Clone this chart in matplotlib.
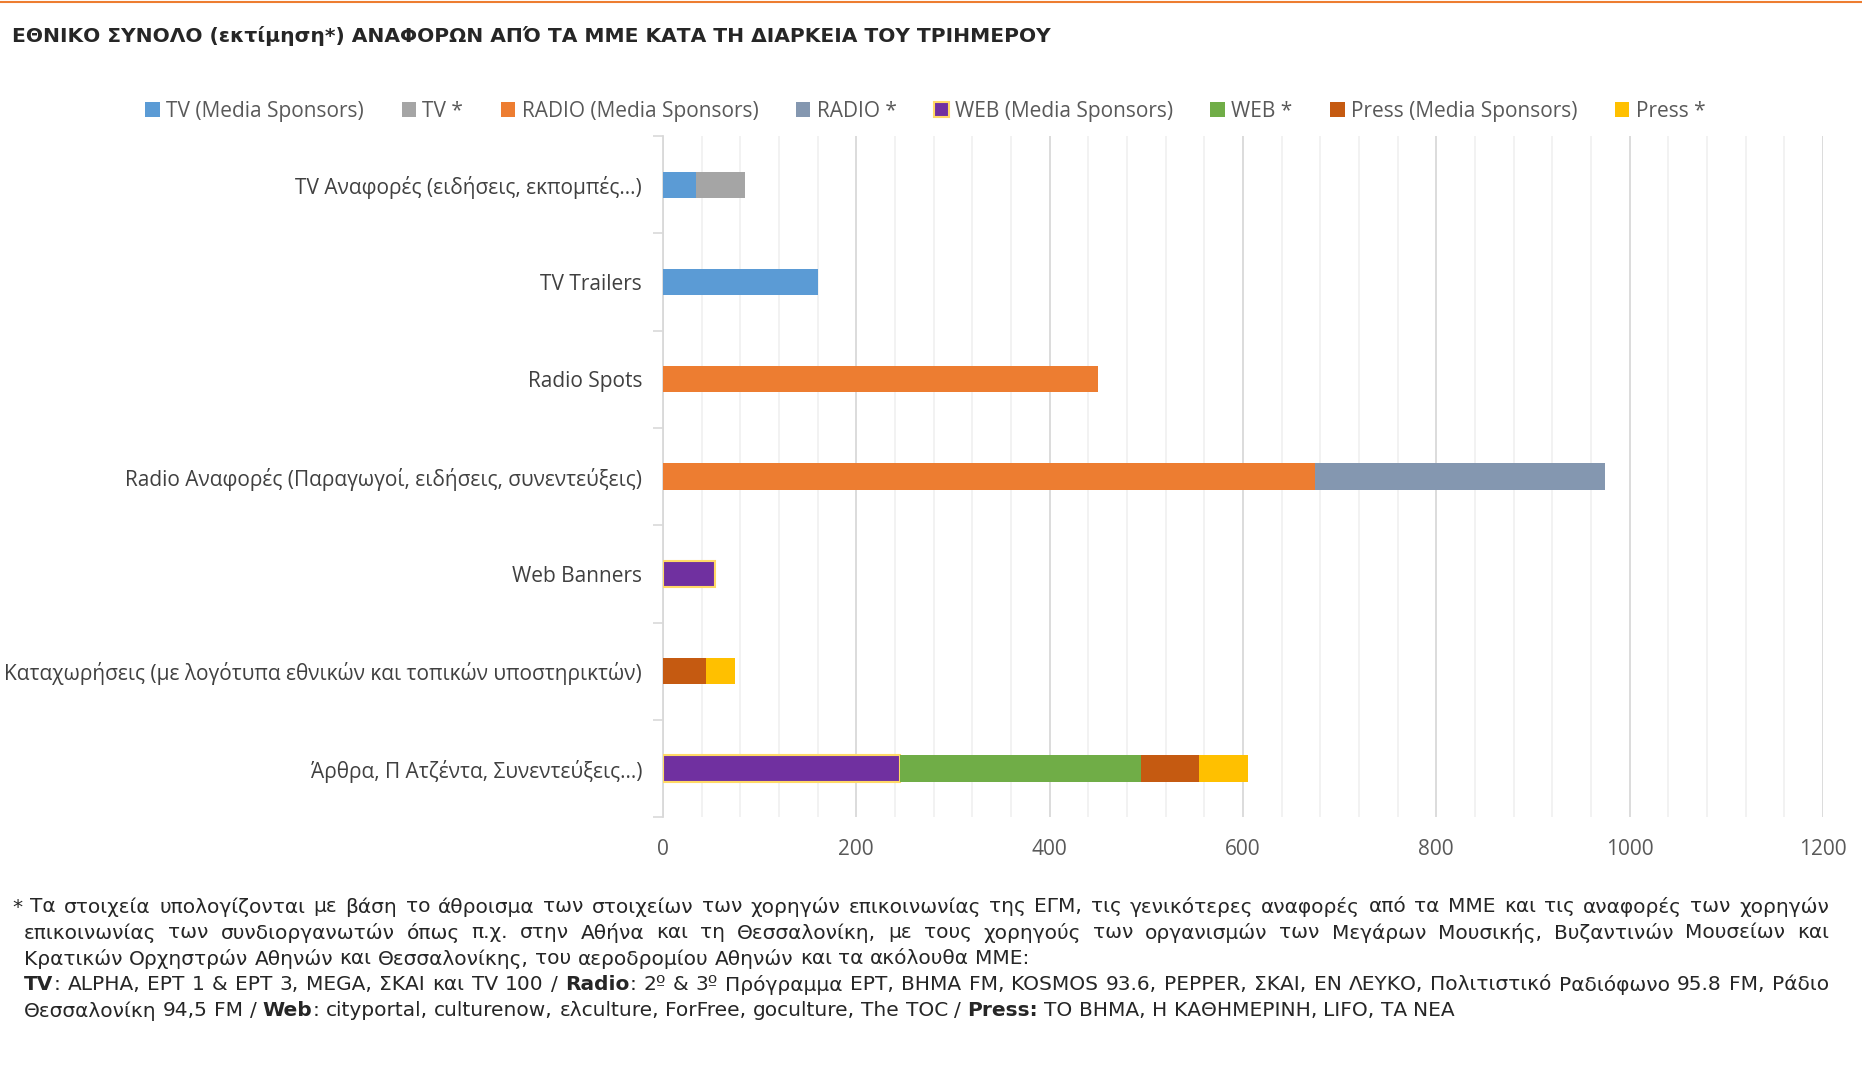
import matplotlib
matplotlib.use('Agg')
import matplotlib.pyplot as plt
import numpy as np
from matplotlib.patches import Patch
from matplotlib.ticker import MultipleLocator

categories = ["TV Αναφορές (ειδήσεις, εκπομπές…)",
              "TV Trailers",
              "Radio Spots",
              "Radio Αναφορές (Παραγωγοί, ειδήσεις, συνεντεύξεις)",
              "Web Banners",
              "Καταχωρήσεις (με λογότυπα εθνικών και τοπικών υποστηρικτών)",
              "Άρθρα, Π Ατζέντα, Συνεντεύξεις…)"]

tv_media = [34, 160, 0, 0, 0, 0, 0]
tv_star = [51, 0, 0, 0, 0, 0, 0]
radio_media = [0, 0, 450, 675, 0, 0, 0]
radio_star = [0, 0, 0, 300, 0, 0, 0]
web_media = [0, 0, 0, 0, 54, 0, 245]
web_star = [0, 0, 0, 0, 0, 0, 250]
press_media = [0, 0, 0, 0, 0, 45, 60]
press_star = [0, 0, 0, 0, 0, 30, 50]

series_names = ["TV (Media Sponsors)", "TV *", "RADIO (Media Sponsors)", "RADIO *",
                "WEB (Media Sponsors)", "WEB *", "Press (Media Sponsors)", "Press *"]
series = [tv_media, tv_star, radio_media, radio_star, web_media, web_star, press_media, press_star]
colors = ['#5B9BD5', '#A5A5A5', '#ED7D31', '#8497B0', '#7030A0', '#70AD47', '#C55A11', '#FFC000']

title = "ΕΘΝΙΚΟ ΣΥΝΟΛΟ (εκτίμηση*) ΑΝΑΦΟΡΩΝ ΑΠΌ ΤΑ ΜΜΕ ΚΑΤΑ ΤΗ ΔΙΑΡΚΕΙΑ ΤΟΥ ΤΡΙΗΜΕΡΟΥ"

# footnote lines: (text, justified)  ** toggles bold
footnote = [
    ("* Τα στοιχεία υπολογίζονται με βάση το άθροισμα των στοιχείων των χορηγών επικοινωνίας της ΕΓΜ, τις γενικότερες αναφορές από τα ΜΜΕ και τις αναφορές των χορηγών", True),
    ("επικοινωνίας των συνδιοργανωτών όπως π.χ. στην Αθήνα και τη Θεσσαλονίκη, με τους χορηγούς των οργανισμών των Μεγάρων Μουσικής, Βυζαντινών Μουσείων και", True),
    ("Κρατικών  Ορχηστρών Αθηνών και Θεσσαλονίκης, του αεροδρομίου Αθηνών και τα ακόλουθα ΜΜΕ:", False),
    ("**TV**: ALPHA, ΕΡΤ 1 & ΕΡΤ 3, MEGA, ΣΚΑΙ και TV 100 / **Radio**: 2º & 3º Πρόγραμμα ΕΡΤ, ΒΗΜΑ FM, KOSMOS 93.6, PEPPER, ΣΚΑΙ, ΕΝ ΛΕΥΚΟ, Πολιτιστικό Ραδιόφωνο 95.8 FM, Ράδιο", True),
    ("Θεσσαλονίκη 94,5 FM  / **Web**: cityportal, culturenow, ελculture, ForFree, goculture, The TOC / **Press:** ΤΟ ΒΗΜΑ, Η ΚΑΘΗΜΕΡΙΝΗ, LIFO, ΤΑ ΝΕΑ", False),
]

W, H = 1862, 1071
fig = plt.figure(figsize=(W / 100, H / 100), dpi=100)
ax = fig.add_axes([0.356, 0.237, 0.623, 0.636])

y = np.arange(len(categories))
left = np.zeros(len(categories))
for name, vals, c in zip(series_names, series, colors):
    vals = np.array(vals, dtype=float)
    if name == "WEB (Media Sponsors)":
        lw = [1.5 if v > 0 else 0 for v in vals]
        ax.barh(y, vals, left=left, height=0.27, color=c, edgecolor='#FFD966', linewidth=lw, zorder=3)
    else:
        ax.barh(y, vals, left=left, height=0.27, color=c, linewidth=0, zorder=3)
    left += vals

ax.set_ylim(len(categories) - 0.5, -0.5)
ax.set_xlim(0, 1200)
ax.set_yticks(y)
ax.set_yticklabels(categories, fontsize=15, color='#404040', family='Open Sans')
ax.set_yticks(np.arange(len(categories) + 1) - 0.5, minor=True)
ax.tick_params(axis='y', which='major', length=0, pad=15)
ax.tick_params(axis='y', which='minor', length=7, color='#D9D9D9', width=1.2)
ax.xaxis.set_major_locator(MultipleLocator(200))
ax.xaxis.set_minor_locator(MultipleLocator(40))
ax.tick_params(axis='x', which='both', length=0, pad=16, labelsize=15, labelcolor='#595959')
for lab in ax.get_xticklabels():
    lab.set_family('Open Sans')
ax.grid(True, axis='x', which='major', color='#D9D9D9', linewidth=1.3, zorder=0)
ax.grid(True, axis='x', which='minor', color='#F0F0F0', linewidth=1.2, zorder=0)
for s in ['top', 'right', 'bottom']:
    ax.spines[s].set_visible(False)
ax.spines['left'].set_color('#D9D9D9')
ax.spines['left'].set_linewidth(1.3)

handles = []
for name, c in zip(series_names, colors):
    if name == "WEB (Media Sponsors)":
        handles.append(Patch(facecolor=c, edgecolor='#FFD966', linewidth=1.5, label=name))
    else:
        handles.append(Patch(facecolor=c, linewidth=0, label=name))
fig.legend(handles=handles, loc='center', bbox_to_anchor=(0.497, 0.896), ncol=8, frameon=False,
           prop={'family': 'Open Sans', 'size': 15}, labelcolor='#595959',
           handlelength=0.7, handleheight=0.7, handletextpad=0.3, columnspacing=1.8)

# top orange rule
fig.add_artist(plt.Line2D([0, 1], [1 - 2 / H, 1 - 2 / H], color='#ED7D31', linewidth=1.5))

fig.text(12 / W, 1 - 36 / H, title, fontsize=14.6, fontweight='bold', color='#262626',
         family='DejaVu Sans', ha='left', va='center')

# footnote, word by word so it can be justified
renderer = fig.canvas.get_renderer()
fs = 14.5
fam = 'DejaVu Sans'

def measure(s, bold):
    t = fig.text(0, 0, s, fontsize=fs, family=fam, fontweight='bold' if bold else 'normal')
    w = t.get_window_extent(renderer).width
    t.remove()
    return w

space = measure('a a', False) - measure('aa', False)
x_right = 1829
ys = [907, 933, 959, 985, 1011]
bold = False
for i, ((line, just), yy) in enumerate(zip(footnote, ys)):
    x_left = 12 if i == 0 else 24
    words = []
    for w in line.split():
        segs = []
        parts = w.split('**')
        for k, p in enumerate(parts):
            if k > 0:
                bold = not bold
            if p:
                segs.append((p, bold, measure(p, bold)))
        words.append(segs)
    word_w = [sum(s[2] for s in segs) for segs in words]
    if just:
        gap = (x_right - x_left - sum(word_w)) / (len(words) - 1)
    else:
        gap = space
    x = x_left
    for segs, ww in zip(words, word_w):
        xs = x
        for p, b, pw in segs:
            fig.text(xs / W, 1 - yy / H, p, fontsize=fs, family=fam, color='#262626',
                     fontweight='bold' if b else 'normal', ha='left', va='center')
            xs += pw
        x += ww + gap

fig.savefig('out.png', dpi=100)
